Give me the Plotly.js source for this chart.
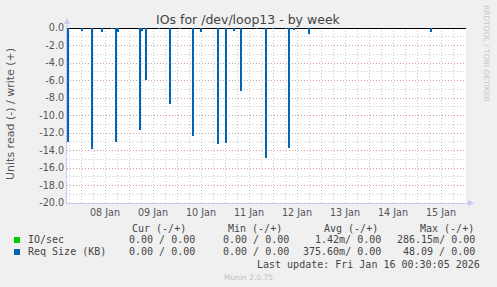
<!DOCTYPE html>
<html>
<head>
<meta charset="utf-8">
<script src="https://cdn.plot.ly/plotly-3.0.1.min.js"></script>
<style>html,body{margin:0;padding:0;background:#f0f0f0;}#chart{width:497px;height:287px;}</style>
</head>
<body>
<div id="chart"></div>
<script>
// ---- data ----
const spikeTimes = [
  '2026-01-07 17:30','2026-01-08 00:30','2026-01-08 05:30','2026-01-08 10:30','2026-01-08 15:30',
  '2026-01-08 17:30','2026-01-08 18:30','2026-01-09 05:30','2026-01-09 06:30','2026-01-09 08:30',
  '2026-01-09 15:00','2026-01-09 20:30','2026-01-10 01:30','2026-01-10 08:00','2026-01-10 12:00',
  '2026-01-10 20:30','2026-01-11 00:30','2026-01-11 04:30','2026-01-11 08:00','2026-01-11 16:00',
  '2026-01-11 20:30','2026-01-12 00:00','2026-01-12 06:30','2026-01-12 08:00','2026-01-12 10:30',
  '2026-01-12 18:00','2026-01-15 07:00'
];
const reqSizeRead = [
  -13.0,-0.3,-13.8,-0.4,-0.1,
  -13.0,-0.4,-11.6,-0.3,-5.9,
  -0.1,-8.65,-0.1,-12.3,-0.5,
  -13.3,-13.1,-0.3,-7.2,-0.1,
  -14.9,-0.1,-0.1,-13.7,-0.2,
  -0.7,-0.4
];
const xRange = ['2026-01-07 17:00','2026-01-16 00:30'];
const yTickVals = [0,-2,-4,-6,-8,-10,-12,-14,-16,-18,-20];
const yTickText = yTickVals.map(v => v.toFixed(1));
const title = 'IOs for /dev/loop13 - by week';
const yTitle = 'Units read (-) / write (+)';
const legendHeaders = ['Cur (-/+)','Min (-/+)','Avg (-/+)','Max (-/+)'];
const seriesNames = ['IO/sec','Req Size (KB)'];
const seriesColors = ['#00cc00','#0066b3'];
const ioStats = ['0.00 / 0.00','0.00 / 0.00','1.42m/ 0.00','286.15m/ 0.00'];
const reqStats = ['0.00 / 0.00','0.00 / 0.00','375.60m/ 0.00','48.09 / 0.00'];
const lastUpdate = 'Last update: Fri Jan 16 00:30:05 2026';
const credit = 'RRDTOOL / TOBI OETIKER';
const version = 'Munin 2.0.75';

// ---- layout geometry ----
const W = 497, H = 287, L = 67, R = 31, T = 28, B = 84;
const PW = W - L - R, PH = H - T - B;
const px = x => (x - L) / PW;
const py = y => (H - B - y) / PH;

const mono = {family: 'DejaVu Sans Mono', size: 10, color: '#444'};
const ann = [];
ann.push({text: title, x: px(248.5), y: py(19), xref: 'paper', yref: 'paper', showarrow: false,
  xanchor: 'center', yanchor: 'middle', font: {family: 'DejaVu Sans', size: 12.5, color: '#444'}});
ann.push({text: yTitle, x: px(10.5), y: py(114.5), xref: 'paper', yref: 'paper', showarrow: false,
  textangle: -90, xanchor: 'center', yanchor: 'middle', font: {family: 'DejaVu Sans', size: 11, color: '#555'}});
ann.push({text: credit, x: px(487), y: py(53), xref: 'paper', yref: 'paper', showarrow: false,
  textangle: 90, xanchor: 'center', yanchor: 'middle', font: {family: 'DejaVu Sans', size: 7.5, color: '#c8c8c8'}});
ann.push({text: version, x: px(248), y: py(277), xref: 'paper', yref: 'paper', showarrow: false,
  xanchor: 'center', yanchor: 'middle', font: {family: 'DejaVu Sans', size: 7.5, color: '#c0c0c0'}});

const colRight = [197, 291, 383, 477];
const headRight = [188, 284, 380, 476];
legendHeaders.forEach((h, i) => ann.push({text: h, x: px(headRight[i]), y: py(228), xref: 'paper', yref: 'paper',
  showarrow: false, xanchor: 'right', yanchor: 'middle', font: mono}));
[ioStats, reqStats].forEach((row, r) => {
  const yy = 239.5 + 12 * r;
  ann.push({text: seriesNames[r], x: px(26), y: py(yy), xref: 'paper', yref: 'paper', showarrow: false,
    xanchor: 'left', yanchor: 'middle', font: mono});
  row.forEach((s, i) => ann.push({text: s, x: px(colRight[i]), y: py(yy), xref: 'paper', yref: 'paper',
    showarrow: false, xanchor: 'right', yanchor: 'middle', font: mono}));
});
ann.push({text: lastUpdate, x: px(482), y: py(264), xref: 'paper', yref: 'paper', showarrow: false,
  xanchor: 'right', yanchor: 'middle', font: mono});

const shapes = [];
seriesColors.forEach((c, r) => {
  const y0 = 237 + 12 * r;
  shapes.push({type: 'rect', xref: 'paper', yref: 'paper', x0: px(14), x1: px(20), y0: py(y0), y1: py(y0 + 6),
    fillcolor: c, line: {width: 0}});
});
// axis arrows
const arrowCol = '#c8c8f0';
shapes.push({type: 'path', xref: 'paper', yref: 'paper',
  path: `M ${px(64)},${py(24)} L ${px(70)},${py(24)} L ${px(67)},${py(18)} Z`, fillcolor: arrowCol, line: {width: 0}});
shapes.push({type: 'line', xref: 'paper', yref: 'paper', x0: px(67), x1: px(67), y0: py(28), y1: py(22), line: {color: arrowCol, width: 1}});
shapes.push({type: 'path', xref: 'paper', yref: 'paper',
  path: `M ${px(468)},${py(200)} L ${px(468)},${py(206)} L ${px(474)},${py(203)} Z`, fillcolor: arrowCol, line: {width: 0}});
shapes.push({type: 'line', xref: 'paper', yref: 'paper', x0: px(466), x1: px(469), y0: py(203), y1: py(203), line: {color: arrowCol, width: 1}});

const majorGrid = 'rgba(220,120,120,0.55)';
const minorGrid = 'rgba(190,190,190,0.8)';
const trace = {
  type: 'bar', x: spikeTimes, y: reqSizeRead, width: 2.6e6,
  marker: {color: '#0066b3', line: {width: 0}}, hoverinfo: 'skip'
};
const layout = {
  width: W, height: H, margin: {l: L, r: R, t: T, b: B, pad: 0},
  paper_bgcolor: '#f0f0f0', plot_bgcolor: '#ffffff', showlegend: false, bargap: 0,
  font: {family: 'DejaVu Sans', size: 9.6, color: '#555'},
  xaxis: {
    type: 'date', range: xRange, tick0: '2026-01-08', dtick: 86400000,
    ticklabelmode: 'period', tickformat: '%d %b', ticks: '', ticklen: 0,
    showgrid: true, gridcolor: majorGrid, griddash: '1px,2px', gridwidth: 1,
    minor: {tick0: '2026-01-08', dtick: 21600000, showgrid: true, gridcolor: minorGrid, griddash: '1px,2px', gridwidth: 1},
    showline: true, linecolor: arrowCol, linewidth: 1, zeroline: false,
    tickfont: {family: 'DejaVu Sans', size: 9.6, color: '#555'}, fixedrange: true
  },
  yaxis: {
    range: [-20, 0], tickmode: 'array', tickvals: yTickVals, ticktext: yTickText, ticks: '',
    showgrid: true, gridcolor: majorGrid, griddash: '1px,2px', gridwidth: 1,
    minor: {dtick: 1, showgrid: true, gridcolor: minorGrid, griddash: '1px,2px', gridwidth: 1},
    showline: true, linecolor: arrowCol, linewidth: 1,
    zeroline: true, zerolinecolor: '#000000', zerolinewidth: 1,
    tickfont: {family: 'DejaVu Sans', size: 9.6, color: '#555'}, fixedrange: true
  },
  annotations: ann, shapes: shapes
};
Plotly.newPlot('chart', [trace], layout, {staticPlot: true, displayModeBar: false});
</script>
</body>
</html>
